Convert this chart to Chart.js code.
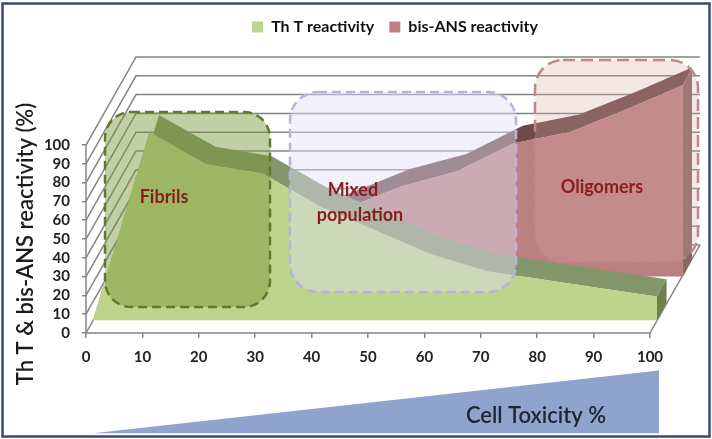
<!DOCTYPE html>
<html>
  <head>
    <meta charset="utf-8">
    <title>ThT and bis-ANS reactivity</title>
    <script src="https://cdn.jsdelivr.net/npm/chart.js@4/dist/chart.umd.min.js"></script>
    <style media="screen">
    html, body { margin:0; padding:0; background:#fff; }
    canvas { display:block; filter:blur(0.4px); }
    </style>
  </head>
  <body>
    <canvas id="myChart" width="712" height="439"></canvas>

    <script>
      // values
      const toxicity = [0, 10, 20, 30, 40, 50, 60, 70, 80, 90, 100];
      const thtReactivity = [0, 100, 83, 78, 61, 48, 35, 26, 21.5, 17, 12.6];
      const bisAnsReactivity = [0, 6, 15, 25, 36, 48, 56, 71, 77, 89, 102];
      const xTicks = [0, 10, 20, 30, 40, 50, 60, 70, 80, 90, 100];
      const yTicks = [0, 10, 20, 30, 40, 50, 60, 70, 80, 90, 100];
      const wedgeX = [1.2, 101.6];
      const wedgeY = [-53.4, -20];

      // 3D look, all in axis units
      const wall = {x: 8.87, y: 46.84};
      const greenShift = {x: 1.24, y: 6.84};
      const pinkShift = {x: 5.85, y: 30};
      const greenDepth = {x: 1.7, y: 9.2};
      const pinkDepth = {x: 1.6, y: 9.2};

      const FONT = 'Lato';

      function shifted(shift) {
        return {
          x: {type: 'linear', display: false, min: -shift.x, max: 100 + wall.x - shift.x},
          y: {type: 'linear', display: false, min: -shift.y, max: 100 + wall.y - shift.y}
        };
      }
      const gs = shifted(greenShift);
      const ps = shifted(pinkShift);

      function roundBox(ctx, box) {
        ctx.save();
        ctx.beginPath();
        ctx.roundRect(box.x, box.y, box.w, box.h, box.r);
        ctx.fillStyle = box.fill;
        ctx.fill();
        ctx.setLineDash(box.dash);
        ctx.lineWidth = 2.5;
        ctx.strokeStyle = box.line;
        ctx.stroke();
        ctx.restore();
      }

      function poly(ctx, pts, color) {
        ctx.beginPath();
        pts.forEach((p, i) => i ? ctx.lineTo(p[0], p[1]) : ctx.moveTo(p[0], p[1]));
        ctx.closePath();
        ctx.fillStyle = color;
        ctx.fill();
      }

      // top ribbon and right hand side of one area
      function drawDepth(chart, vals, xId, yId, depth, topColor, sideColor) {
        const ctx = chart.ctx, sx = chart.scales[xId], sy = chart.scales[yId];
        const px = v => sx.getPixelForValue(v), py = v => sy.getPixelForValue(v);
        ctx.save();
        const front = toxicity.map((x, i) => [px(x), py(vals[i])]);
        const back = toxicity.map((x, i) => [px(x + depth.x), py(vals[i] + depth.y)]).reverse();
        poly(ctx, front.concat(back), topColor);
        const last = vals.length - 1, e = toxicity[last];
        poly(ctx, [
          [px(e), py(vals[last])],
          [px(e + depth.x), py(vals[last] + depth.y)],
          [px(e + depth.x), py(depth.y)],
          [px(e), py(0)]
        ], sideColor);
        ctx.restore();
      }

      const depthPlugin = {
        id: 'depth',
        beforeDatasetsDraw(chart) {
          const ctx = chart.ctx, sx = chart.scales.x, sy = chart.scales.y;
          const px = v => sx.getPixelForValue(v), py = v => sy.getPixelForValue(v);
          ctx.save();
          ctx.strokeStyle = '#858585';
          ctx.lineWidth = 1.5;
          yTicks.forEach(v => {
            ctx.beginPath();
            ctx.moveTo(px(0), py(v));
            ctx.lineTo(px(wall.x), py(v + wall.y));
            ctx.lineTo(px(100 + wall.x), py(v + wall.y));
            ctx.stroke();
          });
          ctx.beginPath();
          ctx.moveTo(px(0), py(100));
          ctx.lineTo(px(0), py(0));
          ctx.lineTo(px(100), py(0));
          ctx.lineTo(px(100 + wall.x), py(wall.y));
          ctx.stroke();
          ctx.restore();
          drawDepth(chart, bisAnsReactivity, 'xPink', 'yPink', pinkDepth, '#6b4a48', '#8a6664');
        },
        afterDatasetDraw(chart, args) {
          // bis-ANS has just been painted, the Th T ribbon goes over it
          if (args.index === 1) {
            drawDepth(chart, thtReactivity, 'xGreen', 'yGreen', greenDepth, '#84976a', '#6d8048');
          }
        },
        afterDatasetsDraw(chart) {
          const ctx = chart.ctx, sx = chart.scales.x, sy = chart.scales.y;
          roundBox(ctx, {x: 105, y: 112, w: 165, h: 195, r: 26, fill: 'rgba(120,149,53,0.45)', line: '#5f7a30', dash: [9, 5]});
          roundBox(ctx, {x: 290, y: 92, w: 226, h: 200, r: 28, fill: 'rgba(226,222,245,0.45)', line: '#b9b3da', dash: [9, 5]});
          roundBox(ctx, {x: 535, y: 60, w: 163, h: 202, r: 28, fill: 'rgba(215,170,160,0.28)', line: '#bd8886', dash: [12, 6]});

          // wedge under the x axis
          ctx.save();
          ctx.beginPath();
          ctx.moveTo(sx.getPixelForValue(wedgeX[0]), sy.getPixelForValue(wedgeY[0]));
          ctx.lineTo(sx.getPixelForValue(wedgeX[1]), sy.getPixelForValue(wedgeY[1]));
          ctx.lineTo(sx.getPixelForValue(wedgeX[1]), sy.getPixelForValue(wedgeY[0]));
          ctx.closePath();
          ctx.fillStyle = '#90a3cd';
          ctx.fill();

          ctx.textAlign = 'center';
          ctx.textBaseline = 'middle';
          ctx.fillStyle = '#8c1c1c';
          ctx.font = 'bold 18px ' + FONT;
          ctx.fillText('Fibrils', 164, 197);
          ctx.fillText('Mixed', 353, 190);
          ctx.fillText('population', 360, 215);
          ctx.fillText('Oligomers', 602, 187);

          ctx.fillStyle = '#1f2430';
          ctx.font = '600 22px ' + FONT;
          ctx.fillText('Cell Toxicity %', 536, 416);

          ctx.translate(26, 244);
          ctx.rotate(-Math.PI / 2);
          ctx.font = '600 22px ' + FONT;
          ctx.fillStyle = '#1c1c1c';
          ctx.fillText('Th T & bis-ANS reactivity (%)', 0, 0, 285);
          ctx.restore();

          ctx.save();
          ctx.strokeStyle = '#37497c';
          ctx.lineWidth = 2.5;
          ctx.strokeRect(2.5, 3.5, 707, 433);
          ctx.restore();
        }
      };

      var ctx = document.getElementById('myChart').getContext('2d');
      var myChart = new Chart(ctx, {
        type: 'line',
        data: {
          datasets: [{
            label: 'Th T reactivity',
            data: toxicity.map((x, i) => ({x: x, y: thtReactivity[i]})),
            xAxisID: 'xGreen',
            yAxisID: 'yGreen',
            backgroundColor: '#bcd48c',
            borderWidth: 0,
            pointRadius: 0,
            tension: 0,
            fill: 'origin'
          }, {
            label: 'bis-ANS reactivity',
            data: toxicity.map((x, i) => ({x: x, y: bisAnsReactivity[i]})),
            xAxisID: 'xPink',
            yAxisID: 'yPink',
            backgroundColor: '#bb8080',
            borderWidth: 0,
            pointRadius: 0,
            tension: 0,
            fill: 'origin'
          }]
        },
        plugins: [depthPlugin, {
          id: 'legendShift',
          afterLayout(chart) {
            chart.legend.left += 45;
            chart.legend.right += 45;
            chart.legend.top -= 12;
            chart.legend.bottom -= 12;
          }
        }],
        options: {
          responsive: false,
          animation: false,
          layout: {padding: {top: 16, right: 12, left: 0, bottom: 0}},
          plugins: {
            tooltip: {enabled: false},
            legend: {
              position: 'top',
              labels: {
                boxWidth: 11,
                boxHeight: 11,
                padding: 15,
                color: '#111',
                font: {family: FONT, size: 16, weight: 'bold'}
              }
            }
          },
          scales: {
            x: {
              type: 'linear',
              min: 0,
              max: 100 + wall.x,
              afterBuildTicks: axis => { axis.ticks = xTicks.map(v => ({value: v})); },
              afterFit: axis => { axis.height = 106; },
              border: {display: false},
              grid: {drawOnChartArea: false, tickLength: 5, color: '#858585', lineWidth: 1.5},
              ticks: {maxRotation: 0, autoSkip: false, padding: 10, color: '#222',
                font: {family: FONT, size: 15, weight: 'bold'}}
            },
            y: {
              type: 'linear',
              min: 0,
              max: 100 + wall.y,
              afterBuildTicks: axis => { axis.ticks = yTicks.map(v => ({value: v})); },
              afterFit: axis => { axis.width = 86; },
              border: {display: false},
              grid: {drawOnChartArea: false, tickLength: 4, color: '#858585', lineWidth: 1.5},
              ticks: {padding: 12, color: '#222', autoSkip: false,
                font: {family: FONT, size: 15, weight: 'bold'}}
            },
            xGreen: gs.x,
            yGreen: gs.y,
            xPink: ps.x,
            yPink: ps.y
          }
        }
      });
    </script>
  </body>
</html>
